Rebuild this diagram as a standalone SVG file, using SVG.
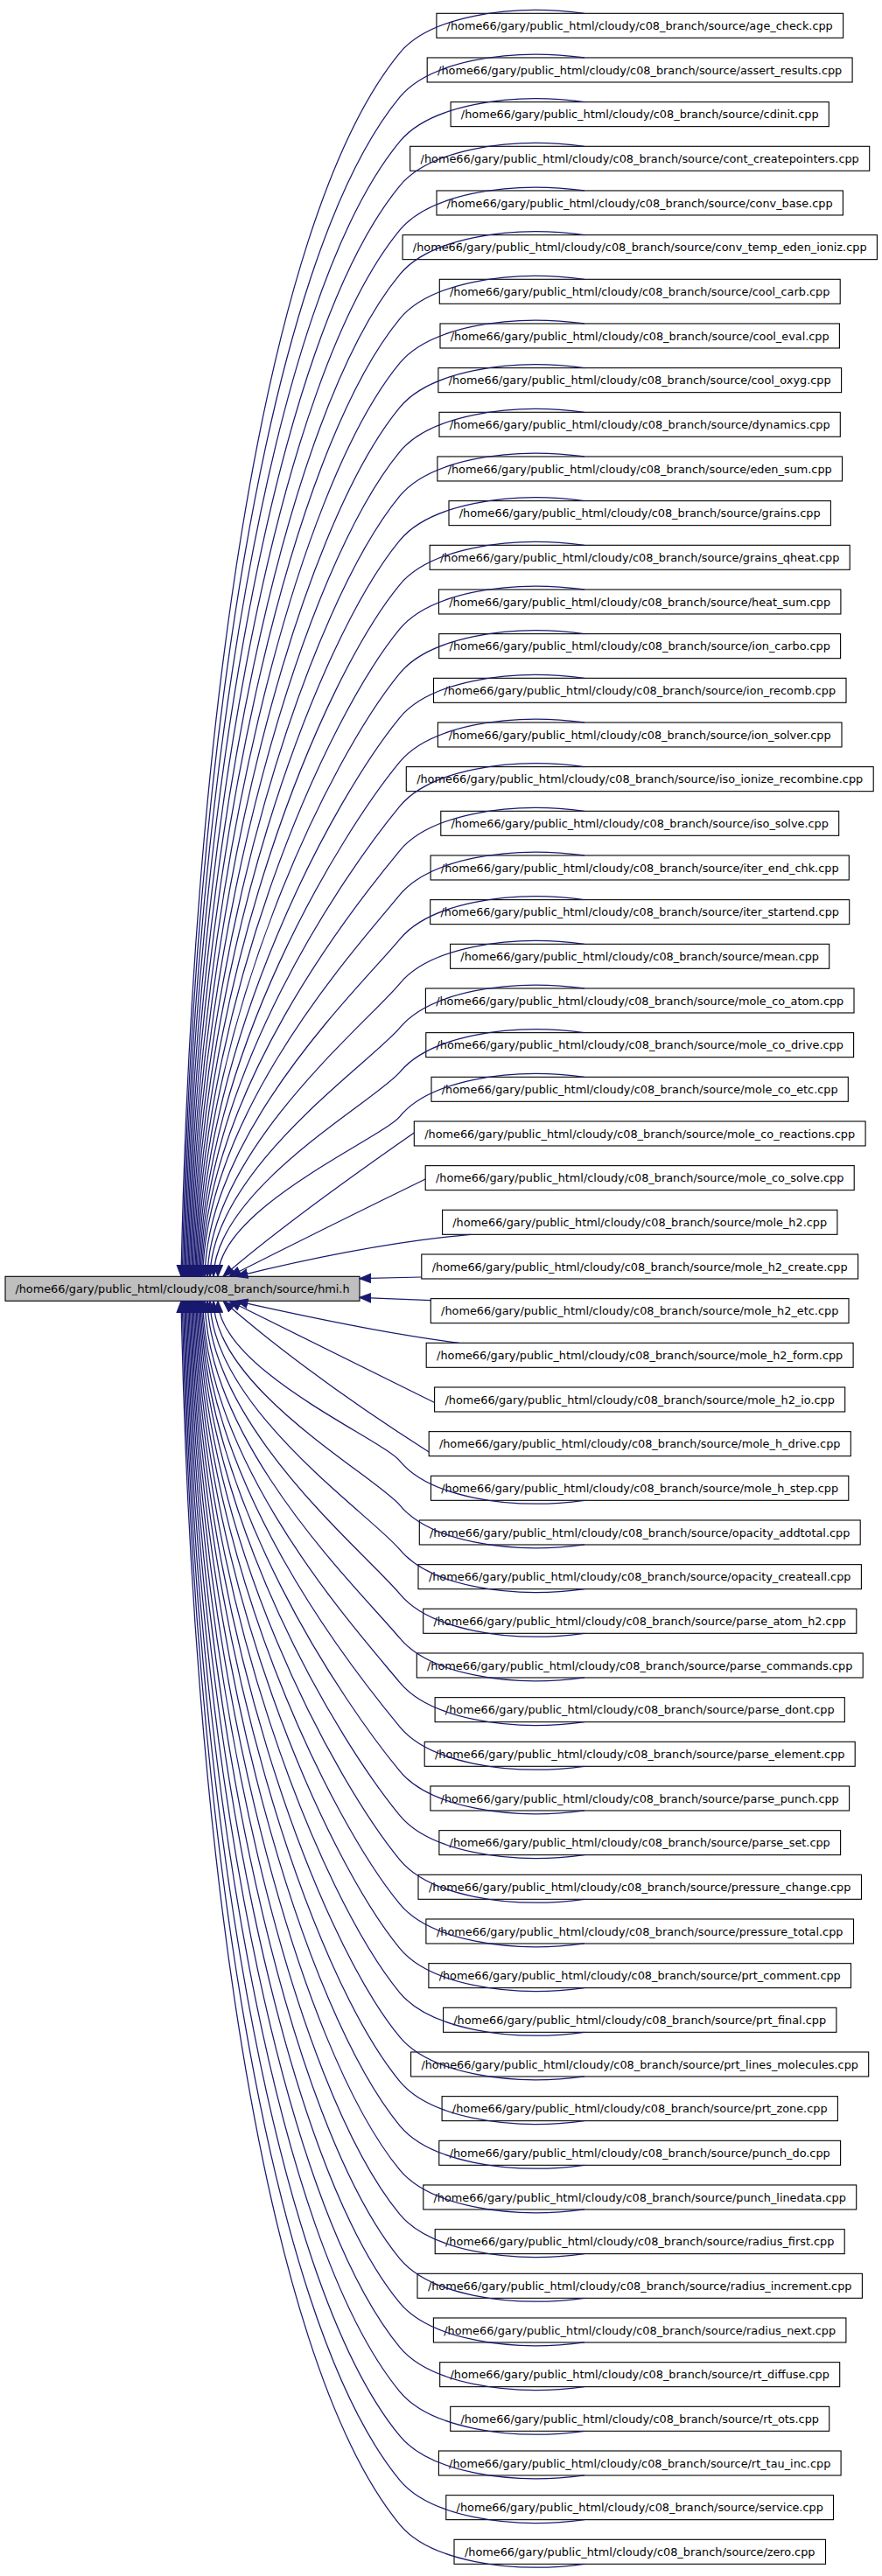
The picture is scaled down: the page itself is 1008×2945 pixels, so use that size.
<svg xmlns="http://www.w3.org/2000/svg" width="1008" height="2945" viewBox="0 0 1008 2945">
<style>
.n rect{fill:#fff;stroke:#000;stroke-width:1.1}
.root rect{fill:#bfbfbf;stroke:#000;stroke-width:1.1}
text{font-family:"DejaVu Sans","Noto Sans",sans-serif;font-size:12.85px;text-anchor:middle;fill:#000}
.e path{fill:none;stroke:#191970;stroke-width:1.25;marker-start:url(#ah)}
</style>
<defs>
<marker id="ah" markerUnits="userSpaceOnUse" markerWidth="14" markerHeight="12" viewBox="-0.5 -0.5 13.5 11" refX="12.5" refY="5" orient="auto-start-reverse"><path d="M0,0L12.5,5L0,10z" fill="#191970" stroke="#191970" stroke-width="1"/></marker>
</defs>
<rect width="1008" height="2945" fill="#fff"/>
<g id="hmi_h" class="root"><rect x="6" y="1459.3" width="405" height="28"/><text x="208.5" y="1478">/home66/gary/public_html/cloudy/c08_branch/source/hmi.h</text></g>
<g class="n">
<g id="n0" transform="translate(0,15.3)"><rect x="498.9" width="464.7" height="28"/><text x="731.2" y="18.7">/home66/gary/public_html/cloudy/c08_branch/source/age_check.cpp</text></g>
<g id="n1" transform="translate(0,65.97)"><rect x="488.2" width="485.9" height="28"/><text x="731.2" y="18.7">/home66/gary/public_html/cloudy/c08_branch/source/assert_results.cpp</text></g>
<g id="n2" transform="translate(0,116.63)"><rect x="515.1" width="432.2" height="28"/><text x="731.2" y="18.7">/home66/gary/public_html/cloudy/c08_branch/source/cdinit.cpp</text></g>
<g id="n3" transform="translate(0,167.3)"><rect x="468.7" width="525" height="28"/><text x="731.2" y="18.7">/home66/gary/public_html/cloudy/c08_branch/source/cont_createpointers.cpp</text></g>
<g id="n4" transform="translate(0,217.97)"><rect x="499" width="464.4" height="28"/><text x="731.2" y="18.7">/home66/gary/public_html/cloudy/c08_branch/source/conv_base.cpp</text></g>
<g id="n5" transform="translate(0,268.64)"><rect x="460.1" width="542.3" height="28"/><text x="731.2" y="18.7">/home66/gary/public_html/cloudy/c08_branch/source/conv_temp_eden_ioniz.cpp</text></g>
<g id="n6" transform="translate(0,319.3)"><rect x="502.3" width="457.9" height="28"/><text x="731.2" y="18.7">/home66/gary/public_html/cloudy/c08_branch/source/cool_carb.cpp</text></g>
<g id="n7" transform="translate(0,369.97)"><rect x="503" width="456.4" height="28"/><text x="731.2" y="18.7">/home66/gary/public_html/cloudy/c08_branch/source/cool_eval.cpp</text></g>
<g id="n8" transform="translate(0,420.64)"><rect x="500.9" width="460.7" height="28"/><text x="731.2" y="18.7">/home66/gary/public_html/cloudy/c08_branch/source/cool_oxyg.cpp</text></g>
<g id="n9" transform="translate(0,471.3)"><rect x="502" width="458.3" height="28"/><text x="731.2" y="18.7">/home66/gary/public_html/cloudy/c08_branch/source/dynamics.cpp</text></g>
<g id="n10" transform="translate(0,521.97)"><rect x="499.9" width="462.6" height="28"/><text x="731.2" y="18.7">/home66/gary/public_html/cloudy/c08_branch/source/eden_sum.cpp</text></g>
<g id="n11" transform="translate(0,572.64)"><rect x="513" width="436.4" height="28"/><text x="731.2" y="18.7">/home66/gary/public_html/cloudy/c08_branch/source/grains.cpp</text></g>
<g id="n12" transform="translate(0,623.3)"><rect x="491.2" width="480" height="28"/><text x="731.2" y="18.7">/home66/gary/public_html/cloudy/c08_branch/source/grains_qheat.cpp</text></g>
<g id="n13" transform="translate(0,673.97)"><rect x="501.5" width="459.4" height="28"/><text x="731.2" y="18.7">/home66/gary/public_html/cloudy/c08_branch/source/heat_sum.cpp</text></g>
<g id="n14" transform="translate(0,724.64)"><rect x="501.7" width="458.9" height="28"/><text x="731.2" y="18.7">/home66/gary/public_html/cloudy/c08_branch/source/ion_carbo.cpp</text></g>
<g id="n15" transform="translate(0,775.31)"><rect x="495.5" width="471.5" height="28"/><text x="731.2" y="18.7">/home66/gary/public_html/cloudy/c08_branch/source/ion_recomb.cpp</text></g>
<g id="n16" transform="translate(0,825.97)"><rect x="500.4" width="461.6" height="28"/><text x="731.2" y="18.7">/home66/gary/public_html/cloudy/c08_branch/source/ion_solver.cpp</text></g>
<g id="n17" transform="translate(0,876.64)"><rect x="464.3" width="533.9" height="28"/><text x="731.2" y="18.7">/home66/gary/public_html/cloudy/c08_branch/source/iso_ionize_recombine.cpp</text></g>
<g id="n18" transform="translate(0,927.31)"><rect x="503.8" width="454.9" height="28"/><text x="731.2" y="18.7">/home66/gary/public_html/cloudy/c08_branch/source/iso_solve.cpp</text></g>
<g id="n19" transform="translate(0,977.97)"><rect x="492.1" width="478.2" height="28"/><text x="731.2" y="18.7">/home66/gary/public_html/cloudy/c08_branch/source/iter_end_chk.cpp</text></g>
<g id="n20" transform="translate(0,1028.64)"><rect x="491.7" width="479" height="28"/><text x="731.2" y="18.7">/home66/gary/public_html/cloudy/c08_branch/source/iter_startend.cpp</text></g>
<g id="n21" transform="translate(0,1079.31)"><rect x="514.6" width="433.1" height="28"/><text x="731.2" y="18.7">/home66/gary/public_html/cloudy/c08_branch/source/mean.cpp</text></g>
<g id="n22" transform="translate(0,1129.97)"><rect x="486.4" width="489.6" height="28"/><text x="731.2" y="18.7">/home66/gary/public_html/cloudy/c08_branch/source/mole_co_atom.cpp</text></g>
<g id="n23" transform="translate(0,1180.64)"><rect x="486.8" width="488.8" height="28"/><text x="731.2" y="18.7">/home66/gary/public_html/cloudy/c08_branch/source/mole_co_drive.cpp</text></g>
<g id="n24" transform="translate(0,1231.31)"><rect x="493" width="476.3" height="28"/><text x="731.2" y="18.7">/home66/gary/public_html/cloudy/c08_branch/source/mole_co_etc.cpp</text></g>
<g id="n25" transform="translate(0,1281.98)"><rect x="473.3" width="515.8" height="28"/><text x="731.2" y="18.7">/home66/gary/public_html/cloudy/c08_branch/source/mole_co_reactions.cpp</text></g>
<g id="n26" transform="translate(0,1332.64)"><rect x="486.2" width="490" height="28"/><text x="731.2" y="18.7">/home66/gary/public_html/cloudy/c08_branch/source/mole_co_solve.cpp</text></g>
<g id="n27" transform="translate(0,1383.31)"><rect x="505.6" width="451.3" height="28"/><text x="731.2" y="18.7">/home66/gary/public_html/cloudy/c08_branch/source/mole_h2.cpp</text></g>
<g id="n28" transform="translate(0,1433.98)"><rect x="481.8" width="498.8" height="28"/><text x="731.2" y="18.7">/home66/gary/public_html/cloudy/c08_branch/source/mole_h2_create.cpp</text></g>
<g id="n29" transform="translate(0,1484.64)"><rect x="492.3" width="477.7" height="28"/><text x="731.2" y="18.7">/home66/gary/public_html/cloudy/c08_branch/source/mole_h2_etc.cpp</text></g>
<g id="n30" transform="translate(0,1535.31)"><rect x="487.2" width="487.9" height="28"/><text x="731.2" y="18.7">/home66/gary/public_html/cloudy/c08_branch/source/mole_h2_form.cpp</text></g>
<g id="n31" transform="translate(0,1585.98)"><rect x="496.6" width="469.1" height="28"/><text x="731.2" y="18.7">/home66/gary/public_html/cloudy/c08_branch/source/mole_h2_io.cpp</text></g>
<g id="n32" transform="translate(0,1636.64)"><rect x="490.2" width="482.1" height="28"/><text x="731.2" y="18.7">/home66/gary/public_html/cloudy/c08_branch/source/mole_h_drive.cpp</text></g>
<g id="n33" transform="translate(0,1687.31)"><rect x="492.5" width="477.3" height="28"/><text x="731.2" y="18.7">/home66/gary/public_html/cloudy/c08_branch/source/mole_h_step.cpp</text></g>
<g id="n34" transform="translate(0,1737.98)"><rect x="479.3" width="503.9" height="28"/><text x="731.2" y="18.7">/home66/gary/public_html/cloudy/c08_branch/source/opacity_addtotal.cpp</text></g>
<g id="n35" transform="translate(0,1788.65)"><rect x="478" width="506.4" height="28"/><text x="731.2" y="18.7">/home66/gary/public_html/cloudy/c08_branch/source/opacity_createall.cpp</text></g>
<g id="n36" transform="translate(0,1839.31)"><rect x="483.7" width="495.1" height="28"/><text x="731.2" y="18.7">/home66/gary/public_html/cloudy/c08_branch/source/parse_atom_h2.cpp</text></g>
<g id="n37" transform="translate(0,1889.98)"><rect x="476.3" width="509.9" height="28"/><text x="731.2" y="18.7">/home66/gary/public_html/cloudy/c08_branch/source/parse_commands.cpp</text></g>
<g id="n38" transform="translate(0,1940.65)"><rect x="497.1" width="468.2" height="28"/><text x="731.2" y="18.7">/home66/gary/public_html/cloudy/c08_branch/source/parse_dont.cpp</text></g>
<g id="n39" transform="translate(0,1991.31)"><rect x="485.2" width="492" height="28"/><text x="731.2" y="18.7">/home66/gary/public_html/cloudy/c08_branch/source/parse_element.cpp</text></g>
<g id="n40" transform="translate(0,2041.98)"><rect x="491.9" width="478.7" height="28"/><text x="731.2" y="18.7">/home66/gary/public_html/cloudy/c08_branch/source/parse_punch.cpp</text></g>
<g id="n41" transform="translate(0,2092.65)"><rect x="501.9" width="458.7" height="28"/><text x="731.2" y="18.7">/home66/gary/public_html/cloudy/c08_branch/source/parse_set.cpp</text></g>
<g id="n42" transform="translate(0,2143.31)"><rect x="478" width="506.5" height="28"/><text x="731.2" y="18.7">/home66/gary/public_html/cloudy/c08_branch/source/pressure_change.cpp</text></g>
<g id="n43" transform="translate(0,2193.98)"><rect x="486.9" width="488.6" height="28"/><text x="731.2" y="18.7">/home66/gary/public_html/cloudy/c08_branch/source/pressure_total.cpp</text></g>
<g id="n44" transform="translate(0,2244.65)"><rect x="489.9" width="482.6" height="28"/><text x="731.2" y="18.7">/home66/gary/public_html/cloudy/c08_branch/source/prt_comment.cpp</text></g>
<g id="n45" transform="translate(0,2295.32)"><rect x="506.6" width="449.3" height="28"/><text x="731.2" y="18.7">/home66/gary/public_html/cloudy/c08_branch/source/prt_final.cpp</text></g>
<g id="n46" transform="translate(0,2345.98)"><rect x="469.6" width="523.1" height="28"/><text x="731.2" y="18.7">/home66/gary/public_html/cloudy/c08_branch/source/prt_lines_molecules.cpp</text></g>
<g id="n47" transform="translate(0,2396.65)"><rect x="505.1" width="452.3" height="28"/><text x="731.2" y="18.7">/home66/gary/public_html/cloudy/c08_branch/source/prt_zone.cpp</text></g>
<g id="n48" transform="translate(0,2447.32)"><rect x="501.8" width="458.8" height="28"/><text x="731.2" y="18.7">/home66/gary/public_html/cloudy/c08_branch/source/punch_do.cpp</text></g>
<g id="n49" transform="translate(0,2497.98)"><rect x="483.8" width="494.9" height="28"/><text x="731.2" y="18.7">/home66/gary/public_html/cloudy/c08_branch/source/punch_linedata.cpp</text></g>
<g id="n50" transform="translate(0,2548.65)"><rect x="497.2" width="468" height="28"/><text x="731.2" y="18.7">/home66/gary/public_html/cloudy/c08_branch/source/radius_first.cpp</text></g>
<g id="n51" transform="translate(0,2599.32)"><rect x="477" width="508.4" height="28"/><text x="731.2" y="18.7">/home66/gary/public_html/cloudy/c08_branch/source/radius_increment.cpp</text></g>
<g id="n52" transform="translate(0,2649.98)"><rect x="495.4" width="471.5" height="28"/><text x="731.2" y="18.7">/home66/gary/public_html/cloudy/c08_branch/source/radius_next.cpp</text></g>
<g id="n53" transform="translate(0,2700.65)"><rect x="502.7" width="457" height="28"/><text x="731.2" y="18.7">/home66/gary/public_html/cloudy/c08_branch/source/rt_diffuse.cpp</text></g>
<g id="n54" transform="translate(0,2751.32)"><rect x="514.7" width="433" height="28"/><text x="731.2" y="18.7">/home66/gary/public_html/cloudy/c08_branch/source/rt_ots.cpp</text></g>
<g id="n55" transform="translate(0,2801.99)"><rect x="501.4" width="459.7" height="28"/><text x="731.2" y="18.7">/home66/gary/public_html/cloudy/c08_branch/source/rt_tau_inc.cpp</text></g>
<g id="n56" transform="translate(0,2852.65)"><rect x="509.8" width="442.7" height="28"/><text x="731.2" y="18.7">/home66/gary/public_html/cloudy/c08_branch/source/service.cpp</text></g>
<g id="n57" transform="translate(0,2903.32)"><rect x="519" width="424.5" height="28"/><text x="731.2" y="18.7">/home66/gary/public_html/cloudy/c08_branch/source/zero.cpp</text></g>
</g>
<g id="edges" class="e">
<path id="e0" d="M207,1459.3C219,857.7 296.9,254.4 457,60.3c33,-40 123,-57 211,-45"/>
<path id="e1" d="M208.3,1459.3C219.9,879.5 302.6,298.1 457,110.97c33,-40 123,-57 211,-45"/>
<path id="e2" d="M209.6,1459.3C220.8,901.3 308.4,341.7 457,161.63c33,-40 123,-57 211,-45"/>
<path id="e3" d="M210.9,1459.3C221.6,923.1 314.2,385.4 457,212.3c33,-40 123,-57 211,-45"/>
<path id="e4" d="M212.2,1459.3C222.5,944.9 320.1,429 457,262.97c33,-40 123,-57 211,-45"/>
<path id="e5" d="M213.5,1459.3C223.4,966.7 325.9,472.6 457,313.63c33,-40 123,-57 211,-45"/>
<path id="e6" d="M214.8,1459.3C224.2,988.4 331.6,516.3 457,364.3c33,-40 123,-57 211,-45"/>
<path id="e7" d="M216.1,1459.3C225.1,1010.2 337.4,559.9 457,414.97c33,-40 123,-57 211,-45"/>
<path id="e8" d="M217.4,1459.3C225.9,1032 343.2,603.5 457,465.64c33,-40 123,-57 211,-45"/>
<path id="e9" d="M218.7,1459.3C226.8,1053.8 349.1,647.1 457,516.3c33,-40 123,-57 211,-45"/>
<path id="e10" d="M220,1459.3C227.7,1075.6 354.9,690.8 457,566.97c33,-40 123,-57 211,-45"/>
<path id="e11" d="M221.3,1459.3C228.5,1097.4 360.6,734.4 457,617.64c33,-40 123,-57 211,-45"/>
<path id="e12" d="M222.6,1459.3C229.4,1119.2 366.4,778.1 457,668.3c33,-40 123,-57 211,-45"/>
<path id="e13" d="M223.9,1459.3C230.3,1141 372.2,821.8 457,718.97c33,-40 123,-57 211,-45"/>
<path id="e14" d="M225.2,1459.3C231.1,1162.7 378.1,865.3 457,769.64c33,-40 123,-57 211,-45"/>
<path id="e15" d="M226.5,1459.3C232,1184.5 383.9,909 457,820.3c33,-40 123,-57 211,-45"/>
<path id="e16" d="M227.8,1459.3C232.9,1206.3 389.6,952.6 457,870.97c33,-40 123,-57 211,-45"/>
<path id="e17" d="M229.1,1459.3C233.7,1228.1 395.4,996.2 457,921.64c33,-40 123,-57 211,-45"/>
<path id="e18" d="M230.4,1459.3C234.6,1249.9 401.2,1039.9 457,972.3c33,-40 123,-57 211,-45"/>
<path id="e19" d="M231.7,1459.3C235.5,1271.7 407.1,1083.5 457,1022.97c33,-40 123,-57 211,-45"/>
<path id="e20" d="M234,1459.3C237.3,1293.4 412.9,1127.1 457,1073.64c33,-40 123,-57 211,-45"/>
<path id="e21" d="M237,1459.3C239.9,1315.2 418.6,1170.8 457,1124.31c33,-40 123,-57 211,-45"/>
<path id="e22" d="M240,1459.3C242.4,1337 424.4,1214.5 457,1174.97c33,-40 123,-57 211,-45"/>
<path id="e23" d="M244,1459.3C246,1358.8 430.2,1258.1 457,1225.64c33,-40 123,-57 211,-45"/>
<path id="e24" d="M249,1459.3C250.6,1380.6 436.1,1301.7 457,1276.31c33,-40 123,-57 211,-45"/>
<path id="e25" d="M255,1459.3C300,1420 380,1360 473.3,1295"/>
<path id="e26" d="M262,1459.3C320,1430 400,1390 486.2,1348"/>
<path id="e27" d="M270,1459.3C340,1442 440,1420 538,1411.3"/>
<path id="e28" d="M410.7,1461.7L481.8,1460"/>
<path id="e29" d="M410.7,1483.3L492.3,1486.7"/>
<path id="e30" d="M270,1487.3C340,1503 440,1525 525,1535.3"/>
<path id="e31" d="M262,1487.3C320,1516 400,1556 496.6,1603.5"/>
<path id="e32" d="M255,1487.3C300,1527 380,1590 490.2,1660"/>
<path id="e33" d="M249,1487.3C250.6,1566 436.1,1644.9 457,1670.29c33,40 123,57 211,45"/>
<path id="e34" d="M244,1487.3C246,1587.8 430.2,1688.5 457,1720.96c33,40 123,57 211,45"/>
<path id="e35" d="M240,1487.3C242.4,1609.6 424.4,1732.1 457,1771.63c33,40 123,57 211,45"/>
<path id="e36" d="M237,1487.3C239.9,1631.4 418.6,1775.8 457,1822.29c33,40 123,57 211,45"/>
<path id="e37" d="M234,1487.3C237.3,1653.2 412.9,1819.5 457,1872.96c33,40 123,57 211,45"/>
<path id="e38" d="M231.7,1487.3C235.5,1674.9 407.1,1863.1 457,1923.63c33,40 123,57 211,45"/>
<path id="e39" d="M230.4,1487.3C234.6,1696.7 401.2,1906.7 457,1974.3c33,40 123,57 211,45"/>
<path id="e40" d="M229.1,1487.3C233.7,1718.5 395.4,1950.4 457,2024.96c33,40 123,57 211,45"/>
<path id="e41" d="M227.8,1487.3C232.9,1740.3 389.6,1994 457,2075.63c33,40 123,57 211,45"/>
<path id="e42" d="M226.5,1487.3C232,1762.1 383.9,2037.6 457,2126.3c33,40 123,57 211,45"/>
<path id="e43" d="M225.2,1487.3C231.1,1783.9 378.1,2081.3 457,2176.96c33,40 123,57 211,45"/>
<path id="e44" d="M223.9,1487.3C230.3,1805.6 372.2,2124.8 457,2227.63c33,40 123,57 211,45"/>
<path id="e45" d="M222.6,1487.3C229.4,1827.4 366.4,2168.5 457,2278.3c33,40 123,57 211,45"/>
<path id="e46" d="M221.3,1487.3C228.5,1849.2 360.6,2212.2 457,2328.96c33,40 123,57 211,45"/>
<path id="e47" d="M220,1487.3C227.7,1871 354.9,2255.8 457,2379.63c33,40 123,57 211,45"/>
<path id="e48" d="M218.7,1487.3C226.8,1892.8 349.1,2299.5 457,2430.3c33,40 123,57 211,45"/>
<path id="e49" d="M217.4,1487.3C225.9,1914.6 343.2,2343.1 457,2480.96c33,40 123,57 211,45"/>
<path id="e50" d="M216.1,1487.3C225.1,1936.4 337.4,2386.7 457,2531.63c33,40 123,57 211,45"/>
<path id="e51" d="M214.8,1487.3C224.2,1958.2 331.6,2430.3 457,2582.3c33,40 123,57 211,45"/>
<path id="e52" d="M213.5,1487.3C223.4,1979.9 325.9,2474 457,2632.97c33,40 123,57 211,45"/>
<path id="e53" d="M212.2,1487.3C222.5,2001.7 320.1,2517.6 457,2683.63c33,40 123,57 211,45"/>
<path id="e54" d="M210.9,1487.3C221.6,2023.5 314.2,2561.2 457,2734.3c33,40 123,57 211,45"/>
<path id="e55" d="M209.6,1487.3C220.8,2045.3 308.4,2604.9 457,2784.97c33,40 123,57 211,45"/>
<path id="e56" d="M208.3,1487.3C219.9,2067.1 302.6,2648.5 457,2835.63c33,40 123,57 211,45"/>
<path id="e57" d="M207,1487.3C219,2088.9 296.9,2692.2 457,2886.3c33,40 123,57 211,45"/>
</g>
</svg>
